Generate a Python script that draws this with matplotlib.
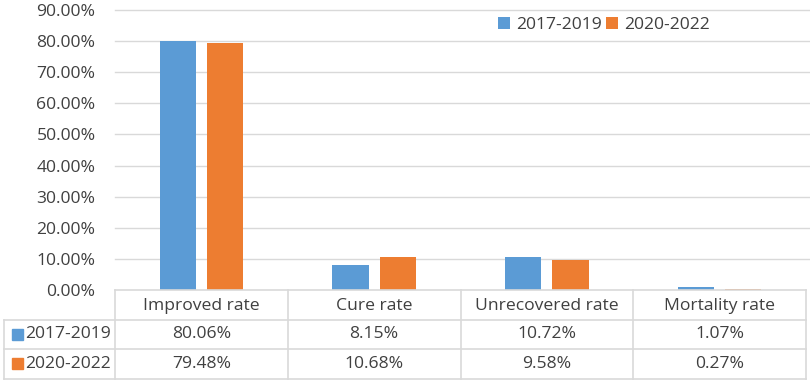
import matplotlib
matplotlib.use("Agg")
import matplotlib.pyplot as plt
import numpy as np

categories = ["Improved rate", "Cure rate", "Unrecovered rate", "Mortality rate"]
series_names = ["2017-2019", "2020-2022"]
vals_2017_2019 = [80.06, 8.15, 10.72, 1.07]
vals_2020_2022 = [79.48, 10.68, 9.58, 0.27]
y_ticks = [0, 10, 20, 30, 40, 50, 60, 70, 80, 90]

colors = ["#5B9BD5", "#ED7D31"]
text_color = "#404040"
grid_color = "#D9D9D9"
plt.rcParams['font.family'] = ['Open Sans', 'DejaVu Sans']
fs = 12.6

W, H = 810, 383
fig = plt.figure(figsize=(W / 100, H / 100), dpi=100)
left_px, right_px, top_px, zero_px = 115, 806, 10, 290
ax = fig.add_axes([left_px / W, 1 - zero_px / H, (right_px - left_px) / W, (zero_px - top_px) / H])

x = np.arange(len(categories))
bw = 0.21
off = 0.137
series = [vals_2017_2019, vals_2020_2022]
for i, (vals, name) in enumerate(zip(series, series_names)):
    ax.bar(x + (i * 2 - 1) * off, vals, width=bw, color=colors[i], label=name, zorder=3)

ax.set_xlim(-0.5, len(categories) - 0.5)
ax.set_ylim(0, 90)
ax.set_yticks(y_ticks)
ax.set_yticklabels([f"{v:.2f}%" for v in y_ticks], color=text_color, fontsize=fs)
ax.tick_params(axis='y', length=0, pad=14)
ax.set_xticks([])
for v in y_ticks[1:]:
    ax.axhline(v, color=grid_color, lw=1, zorder=1, xmax=1.01, clip_on=False)
for s in ax.spines.values():
    s.set_visible(False)
ax.set_facecolor("none")

# legend
leg = ax.legend(loc="upper left", bbox_to_anchor=((491 - left_px) / (right_px - left_px), 1.0),
                ncol=2, frameon=False, fontsize=fs, handlelength=0.7, handleheight=0.7,
                handletextpad=0.35, columnspacing=0.2, borderaxespad=0.0)
for t in leg.get_texts():
    t.set_color(text_color)

# data table
row_h = 29.5
tab_left = 4
def fy(py):
    return 1 - py / H
def fx(px):
    return px / W
lc = grid_color
# horizontal lines
fig.add_artist(plt.Line2D([fx(left_px), fx(right_px)], [fy(zero_px)] * 2, color=lc, lw=1.2))
for r in range(1, 3):
    yy = zero_px + r * row_h
    fig.add_artist(plt.Line2D([fx(tab_left), fx(right_px)], [fy(yy)] * 2, color=lc, lw=1.2))
fig.add_artist(plt.Line2D([fx(tab_left), fx(right_px)], [fy(zero_px + 3 * row_h)] * 2, color=lc, lw=1.2))
# vertical lines
fig.add_artist(plt.Line2D([fx(tab_left)] * 2, [fy(zero_px + row_h), fy(zero_px + 3 * row_h)], color=lc, lw=1.2))
colw = (right_px - left_px) / len(categories)
for c in range(len(categories) + 1):
    xx = left_px + c * colw
    fig.add_artist(plt.Line2D([fx(xx)] * 2, [fy(zero_px), fy(zero_px + 3 * row_h)], color=lc, lw=1.2))

for c, cat in enumerate(categories):
    cx = left_px + (c + 0.5) * colw
    fig.text(fx(cx), fy(zero_px + 0.55 * row_h), cat, ha="center", va="center", fontsize=fs, color=text_color)
    for r, vals in enumerate(series):
        fig.text(fx(cx), fy(zero_px + (r + 1.5) * row_h), f"{vals[c]:.2f}%", ha="center", va="center",
                 fontsize=fs, color=text_color)

for r, name in enumerate(series_names):
    cy = zero_px + (r + 1.5) * row_h
    fig.add_artist(plt.Rectangle((fx(12), fy(cy + 5.5)), 11 / W, 11 / H, color=colors[r]))
    fig.text(fx(25), fy(cy), name, ha="left", va="center", fontsize=fs, color=text_color)

fig.savefig("out.png", dpi=100)
